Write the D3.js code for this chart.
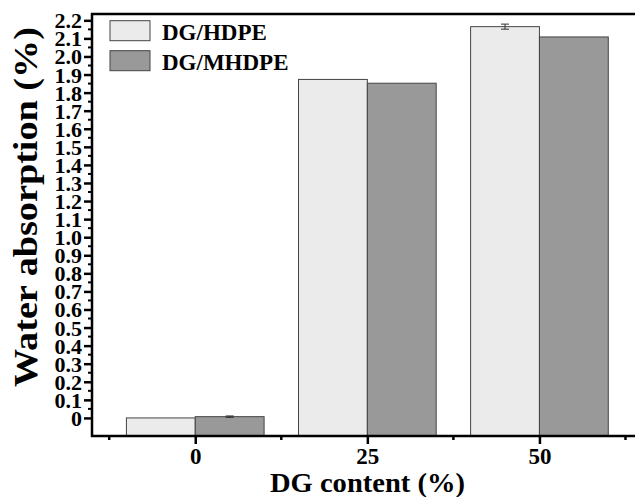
<!DOCTYPE html>
<html>
<head>
<meta charset="utf-8">
<script src="https://cdn.jsdelivr.net/npm/d3@7"></script>
<style>
  body { margin: 0; background: #fff; }
  svg { display: block; overflow: hidden; }
  text { font-family: "Liberation Serif", "Times New Roman", serif; font-weight: bold; fill: #000; }
</style>
</head>
<body>
<div id="chart"></div>
<script>
// data
const contents = [0, 25, 50];
const seriesNames = ['DG/HDPE', 'DG/MHDPE'];
const hdpe = [0.0, 1.873, 2.165];
const hdpeErr = [0, 0, 0.014];
const mhdpe = [0.007, 1.852, 2.108];
const mhdpeErr = [0.004, 0, 0];
const yTicks = d3.range(0, 23).map(d => d / 10);

const W = 635, H = 497;
const colors = ['#ebebeb', '#999999'];
const margin = { left: 92, top: 14 };
const plotBottom = 436;

const svg = d3.select('#chart').append('svg')
  .attr('width', W)
  .attr('height', H);

// x runs past the right edge of the picture, as in the figure
const xScale = d3.scaleLinear().domain([-15, 65]).range([margin.left, 642.7]);
const yScale = d3.scaleLinear().domain([-0.1, 2.235]).range([plotBottom, margin.top]);

const barW = xScale(10) - xScale(0);

// bars
const series = [
  { name: seriesNames[0], vals: hdpe, err: hdpeErr, off: -10 },
  { name: seriesNames[1], vals: mhdpe, err: mhdpeErr, off: 0 },
];

series.forEach((s, si) => {
  const g = svg.append('g').attr('class', 'bars-' + si);
  g.selectAll('rect')
    .data(contents)
    .enter()
    .append('rect')
    .attr('x', (d, i) => xScale(d + s.off))
    .attr('width', barW)
    .attr('y', (d, i) => yScale(s.vals[i]))
    .attr('height', (d, i) => yScale(-0.1) - yScale(s.vals[i]))
    .attr('fill', colors[si])
    .attr('stroke', '#444')
    .attr('stroke-width', 1);

  // error bars
  contents.forEach((d, i) => {
    if (!s.err[i]) return;
    const cx = xScale(d + s.off + 5);
    const y1 = yScale(s.vals[i] + s.err[i]);
    const y2 = yScale(s.vals[i] - s.err[i]);
    g.append('line').attr('x1', cx).attr('x2', cx).attr('y1', y1).attr('y2', y2)
      .attr('stroke', '#333').attr('stroke-width', 1);
    [y1, y2].forEach(yy => {
      g.append('line').attr('x1', cx - 4).attr('x2', cx + 4).attr('y1', yy).attr('y2', yy)
        .attr('stroke', '#333').attr('stroke-width', 1);
    });
  });
});

// y axis
const yAxis = d3.axisLeft(yScale)
  .tickValues(yTicks)
  .tickSize(8)
  .tickPadding(2)
  .tickFormat(d => (d === 0 ? '0' : d3.format('.1f')(d)));

const yAxisG = svg.append('g')
  .attr('transform', `translate(${margin.left},0)`)
  .call(yAxis);
yAxisG.select('.domain').remove();
yAxisG.selectAll('.tick line').attr('stroke', '#000').attr('stroke-width', 2.5);
yAxisG.selectAll('.tick text')
  .attr('font-size', 22)
  .attr('font-family', '"Liberation Serif", "Times New Roman", serif')
  .attr('font-weight', 'bold')
  .attr('dy', '0.34em');

// y minor ticks
svg.append('g').selectAll('line')
  .data(d3.range(0, 22).map(d => d / 10 + 0.05))
  .enter()
  .append('line')
  .attr('x1', margin.left - 4)
  .attr('x2', margin.left)
  .attr('y1', d => yScale(d))
  .attr('y2', d => yScale(d))
  .attr('stroke', '#000')
  .attr('stroke-width', 2);

// x axis
const xAxis = d3.axisBottom(xScale)
  .tickValues(contents)
  .tickSize(8)
  .tickPadding(4)
  .tickFormat(d3.format('d'));

const xAxisG = svg.append('g')
  .attr('transform', `translate(0,${plotBottom})`)
  .call(xAxis);
xAxisG.select('.domain').remove();
xAxisG.selectAll('.tick line').attr('stroke', '#000').attr('stroke-width', 2.5);
xAxisG.selectAll('.tick text')
  .attr('font-size', 23)
  .attr('font-family', '"Liberation Serif", "Times New Roman", serif')
  .attr('font-weight', 'bold');

svg.append('g').selectAll('line')
  .data([-12.5, 12.5, 37.5, 62.5])
  .enter()
  .append('line')
  .attr('x1', d => xScale(d))
  .attr('x2', d => xScale(d))
  .attr('y1', plotBottom)
  .attr('y2', plotBottom + 4)
  .attr('stroke', '#000')
  .attr('stroke-width', 2.5);

// frame lines: left, bottom, top
svg.append('line')
  .attr('x1', margin.left).attr('x2', margin.left)
  .attr('y1', margin.top - 1).attr('y2', plotBottom + 1)
  .attr('stroke', '#000').attr('stroke-width', 2.5);
svg.append('line')
  .attr('x1', margin.left - 1).attr('x2', W)
  .attr('y1', plotBottom).attr('y2', plotBottom)
  .attr('stroke', '#000').attr('stroke-width', 2.5);
svg.append('line')
  .attr('x1', margin.left - 1).attr('x2', W)
  .attr('y1', margin.top).attr('y2', margin.top)
  .attr('stroke', '#000').attr('stroke-width', 2.5);

// axis titles
svg.append('text')
  .attr('transform', 'translate(37,207) rotate(-90)')
  .attr('text-anchor', 'middle')
  .attr('font-size', 34)
  .attr('textLength', 360)
  .attr('lengthAdjust', 'spacingAndGlyphs')
  .text('Water absorption (%)');

svg.append('text')
  .attr('x', 367.5)
  .attr('y', 492)
  .attr('text-anchor', 'middle')
  .attr('font-size', 27)
  .attr('textLength', 195)
  .attr('lengthAdjust', 'spacingAndGlyphs')
  .text('DG content (%)');

// legend
const legend = svg.append('g').attr('class', 'legend');
seriesNames.forEach((name, i) => {
  const ly = 20.7 + i * 30;
  legend.append('rect')
    .attr('x', 110)
    .attr('y', ly)
    .attr('width', 40)
    .attr('height', 20)
    .attr('fill', colors[i])
    .attr('stroke', '#444')
    .attr('stroke-width', 1);
  legend.append('text')
    .attr('x', 162)
    .attr('y', ly + 19)
    .attr('font-size', 23)
    .text(name);
});
</script>
</body>
</html>
